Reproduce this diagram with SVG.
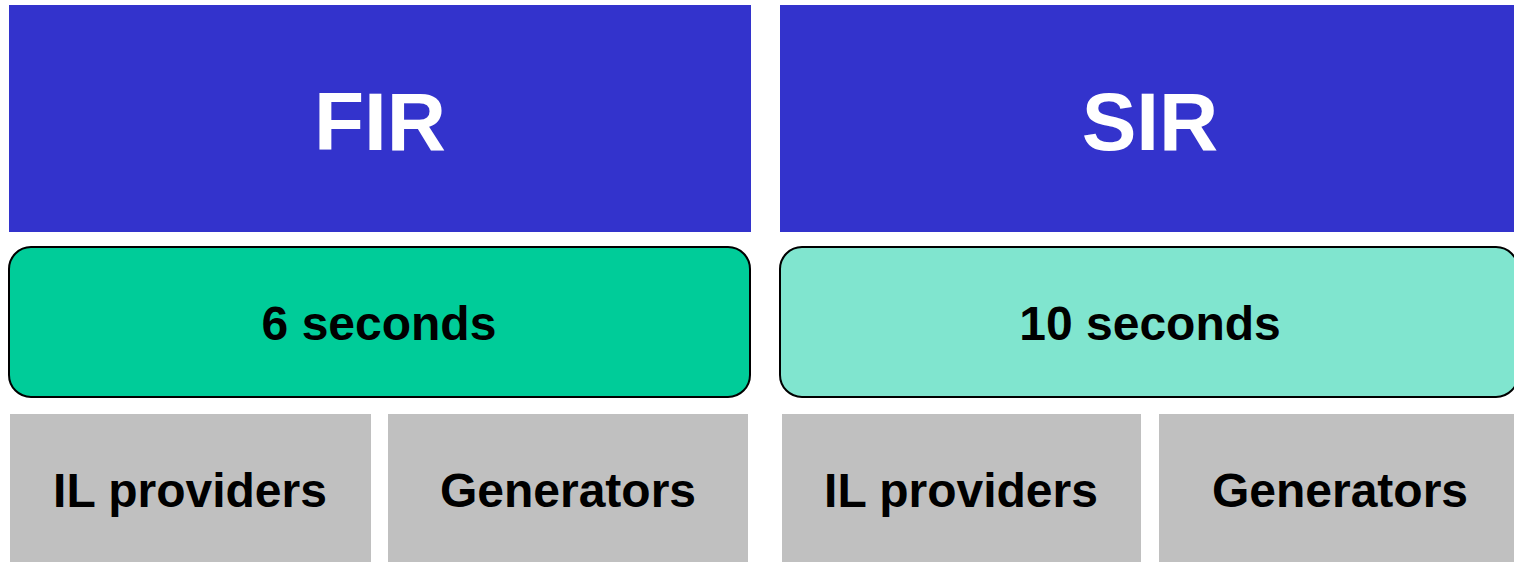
<svg xmlns="http://www.w3.org/2000/svg" width="1514" height="562" viewBox="0 0 1514 562">
<style>
.hdr{fill:#3333CC}
.hdrt{fill:#FFFFFF;font-family:"Liberation Sans",Arial,sans-serif;font-weight:bold;font-size:82px;text-anchor:middle}
.time{stroke:#000000;stroke-width:2}
.t{fill:#000000;font-family:"Liberation Sans",Arial,sans-serif;font-weight:bold;font-size:48px;text-anchor:middle}
.cell{fill:#C0C0C0}
</style>
<rect width="1514" height="562" fill="#FFFFFF"/>
<g id="fir">
<rect class="hdr" x="9" y="5" width="742" height="227"/>
<text class="hdrt" x="380" y="150">FIR</text>
</g>
<g id="sir">
<rect class="hdr" x="780" y="5" width="740" height="227"/>
<text class="hdrt" x="1150" y="150">SIR</text>
</g>
<g id="fir-time">
<rect class="time" x="9" y="247" width="741" height="150" rx="22" ry="22" fill="#00CC99"/>
<text class="t" x="379" y="340">6 seconds</text>
</g>
<g id="sir-time">
<rect class="time" x="780" y="247" width="738" height="150" rx="22" ry="22" fill="#80E5CF"/>
<text class="t" x="1150" y="340">10 seconds</text>
</g>
<g id="fir-il">
<rect class="cell" x="10" y="414" width="361" height="150"/>
<text class="t" x="190" y="507">IL providers</text>
</g>
<g id="fir-gen">
<rect class="cell" x="388" y="414" width="360" height="150"/>
<text class="t" x="568" y="507">Generators</text>
</g>
<g id="sir-il">
<rect class="cell" x="782" y="414" width="359" height="150"/>
<text class="t" x="961" y="507">IL providers</text>
</g>
<g id="sir-gen">
<rect class="cell" x="1159" y="414" width="362" height="150"/>
<text class="t" x="1340" y="507">Generators</text>
</g>
<g id="connectors"></g>
</svg>
